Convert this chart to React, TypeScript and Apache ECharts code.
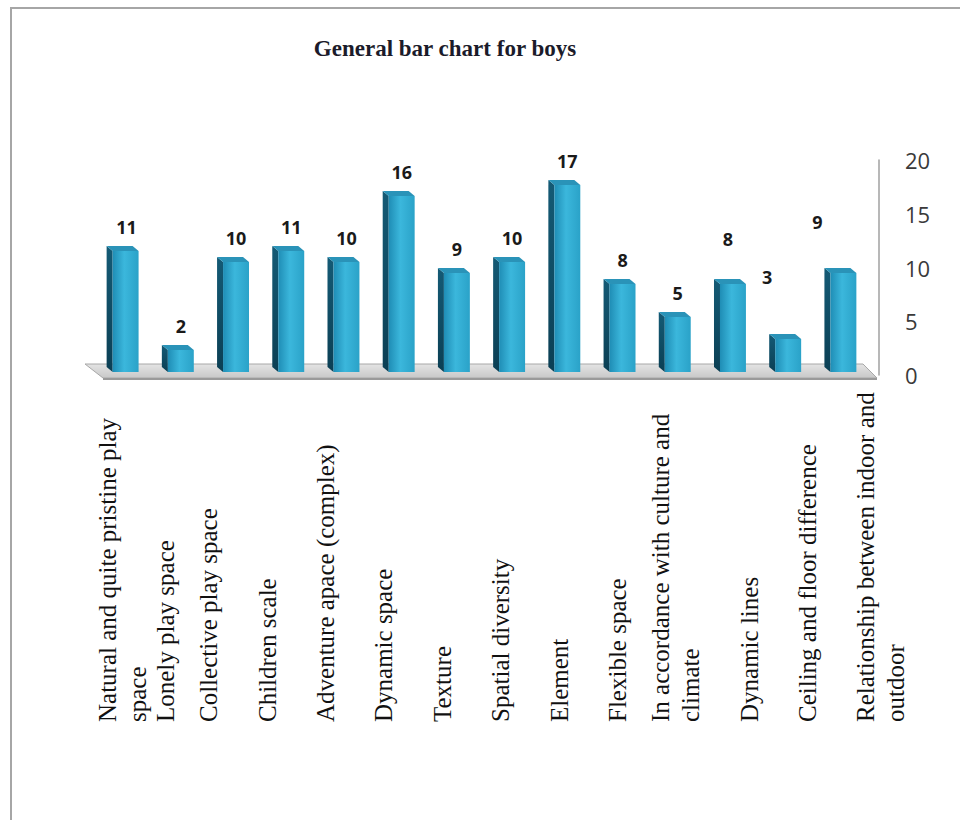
import React, { useEffect, useRef } from "react";
import * as echarts from "echarts";

const categories = [
  "Natural and quite pristine play\nspace",
  "Lonely play space",
  "Collective play space",
  "Children scale",
  "Adventure apace (complex)",
  "Dynamic space",
  "Texture",
  "Spatial diversity",
  "Element",
  "Flexible space",
  "In accordance with culture and\nclimate",
  "Dynamic lines",
  "Ceiling and floor difference",
  "Relationship between indoor and\noutdoor",
];
const values = [11, 2, 10, 11, 10, 16, 9, 10, 17, 8, 5, 8, 3, 9];
const yMin = 0;
const yMax = 20;
const yStep = 5;
const titleText = "General bar chart for boys";

// label placement quirks of the original (styling only)
const labelNudgeX = [1, 0, 0, 0, 0, 0, 0, 0, 0, 0, 0, -5, -21, -26];
const labelNudgeY = [0, 0, 0, 0, 0, 0, 0, 0, 0, 0, 0, -21, -38, -27];
// side alignment of the rotated category labels (styling only)
const catAlign = [
  "top", "top", "middle", "middle", "middle", "middle", "middle",
  "middle", "middle", "middle", "middle", "top", "top", "top",
];

export default function App() {
  const ref = useRef<HTMLDivElement>(null);
  useEffect(() => {
    if (!ref.current) return;
    const chart = echarts.init(ref.current, null, { renderer: "svg" });
    const frontGrad = new echarts.graphic.LinearGradient(0, 0, 1, 0, [
      { offset: 0, color: "#1f8db5" },
      { offset: 0.45, color: "#3bb7dc" },
      { offset: 1, color: "#2aa2c8" },
    ]);
    const sideGrad = new echarts.graphic.LinearGradient(0, 0, 0, 1, [
      { offset: 0, color: "#145a75" },
      { offset: 1, color: "#0b3f54" },
    ]);
    const catLabelStyle = {
      align: "left",
      verticalAlign: "middle",
      fontFamily: "Liberation Serif",
      fontSize: 25,
      lineHeight: 30,
      color: "#111111",
    };
    const labelItems = categories.map((c, i) => ({
      value: c,
      textStyle: { ...catLabelStyle, verticalAlign: catAlign[i] },
    }));
    const option: any = {
      animation: false,
      backgroundColor: "#ffffff",
      title: {
        text: titleText,
        left: 440,
        top: 32,
        textAlign: "center",
        textStyle: {
          fontFamily: "Liberation Serif",
          fontWeight: "bold",
          fontSize: 23,
          color: "#1b1b2a",
        },
      },
      graphic: [
        {
          type: "rect",
          shape: { x: 11, y: 8, width: 980, height: 840 },
          style: { fill: "none", stroke: "#a6a6a6", lineWidth: 2 },
          silent: true,
        },
      ],
      grid: [
        { left: 98, right: 89, top: 152, bottom: 448 },
        { left: 63, right: 80, top: 160, bottom: 445 },
        { left: 100, right: 81, top: 160, bottom: 445 },
      ],
      xAxis: [
        { type: "category", gridIndex: 0, data: categories, show: false },
        {
          type: "category",
          gridIndex: 1,
          data: labelItems,
          axisLine: { show: false },
          axisTick: { show: false },
          axisLabel: {
            interval: 0,
            rotate: 90,
            margin: 347,
            ...catLabelStyle,
          },
        },
        { type: "category", gridIndex: 2, data: categories, show: false },
      ],
      yAxis: [
        { type: "value", gridIndex: 0, min: yMin, max: yMax, interval: yStep, show: false },
        { type: "value", gridIndex: 1, min: yMin, max: yMax, interval: yStep, show: false },
        {
          type: "value",
          gridIndex: 2,
          position: "right",
          min: yMin,
          max: yMax,
          interval: yStep,
          splitLine: { show: false },
          axisTick: { show: false },
          axisLine: { show: true, lineStyle: { color: "#a0a0a0", width: 1.5 } },
          axisLabel: {
            margin: 26,
            fontFamily: "Open Sans",
            fontSize: 22,
            color: "#3a3a3a",
          },
        },
      ],
      series: [
        {
          type: "custom",
          xAxisIndex: 0,
          yAxisIndex: 0,
          data: [[0, 0]],
          silent: true,
          renderItem: (params: any, api: any) => {
            const cs = params.coordSys;
            const yb = api.coord([0, 0])[1];
            const l = cs.x;
            const r = cs.x + cs.width;
            return {
              type: "group",
              children: [
                {
                  type: "polygon",
                  shape: {
                    points: [
                      [l + 5, yb + 6],
                      [r + 6, yb + 6],
                      [r - 8, yb - 8],
                      [l - 13, yb - 8],
                    ],
                  },
                  style: {
                    fill: new echarts.graphic.LinearGradient(0, 0, 0, 1, [
                      { offset: 0, color: "#e4e4e4" },
                      { offset: 1, color: "#c8c8c8" },
                    ]),
                    stroke: "#a8a8a8",
                    lineWidth: 1,
                  },
                },
                {
                  type: "rect",
                  shape: { x: l + 5, y: yb + 6, width: r - l + 1, height: 2 },
                  style: { fill: "#9a9a9a" },
                },
              ],
            };
          },
        },
        {
          type: "custom",
          xAxisIndex: 0,
          yAxisIndex: 0,
          data: values.map((v, i) => [i, v]),
          encode: { x: 0, y: 1 },
          renderItem: (params: any, api: any) => {
            const idx = api.value(0);
            const v = api.value(1);
            const top = api.coord([idx, v]);
            const base = api.coord([idx, 0]);
            const band = api.size([1, 0])[0];
            const w = band * 0.47;
            const x0 = top[0] - w / 2;
            const x1 = x0 + w;
            const yt = top[1];
            const yb = base[1];
            const dx = -6;
            const dy = -5;
            return {
              type: "group",
              children: [
                {
                  type: "polygon",
                  shape: {
                    points: [
                      [x0, yb],
                      [x0, yt],
                      [x0 + dx, yt + dy],
                      [x0 + dx, yb + dy],
                    ],
                  },
                  style: { fill: sideGrad },
                },
                {
                  type: "polygon",
                  shape: {
                    points: [
                      [x0, yt],
                      [x1, yt],
                      [x1 + dx, yt + dy],
                      [x0 + dx, yt + dy],
                    ],
                  },
                  style: { fill: "#2a93b8" },
                },
                {
                  type: "rect",
                  shape: { x: x0, y: yt, width: w, height: yb - yt },
                  style: { fill: frontGrad },
                },
                {
                  type: "text",
                  style: {
                    text: String(v),
                    x: top[0] + labelNudgeX[idx],
                    y: yt - 24 + labelNudgeY[idx],
                    textAlign: "center",
                    textVerticalAlign: "middle",
                    fontFamily: "Noto Sans",
                    fontWeight: "bold",
                    fontSize: 18,
                    fill: "#1a1a1a",
                  },
                },
              ],
            };
          },
        },
      ],
    };
    chart.setOption(option);
    return () => chart.dispose();
  }, []);
  return (
    <div
      ref={ref}
      style={{ position: "absolute", left: 0, top: 0, width: 960, height: 820 }}
    />
  );
}
